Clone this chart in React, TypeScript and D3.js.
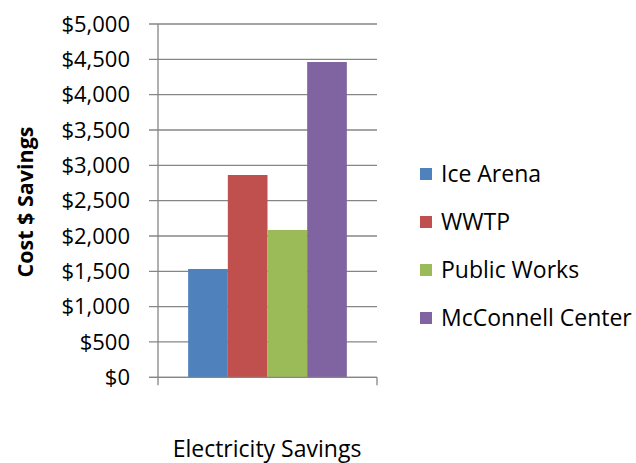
import React from "react";
import * as d3 from "d3";

const categories = ["Electricity Savings"];
const seriesNames = ["Ice Arena", "WWTP", "Public Works", "McConnell Center"];
const seriesValues = [1533, 2863, 2085, 4462];
const seriesColors = ["#4F81BD", "#C0504D", "#9BBB59", "#8064A2"];
const yTicks = [0, 500, 1000, 1500, 2000, 2500, 3000, 3500, 4000, 4500, 5000];
const yTitle = "Cost $ Savings";

const W = 636;
const H = 463;
const FONT = "'Open Sans', sans-serif";

export default function App() {
  const left = 158;
  const right = 377;
  const top = 24;
  const bottom = 377.3;

  const y = d3.scaleLinear().domain([0, 5000]).range([bottom, top]);
  const x0 = d3.scaleBand().domain(categories).range([left, right]).paddingInner(0).paddingOuter(0.19);
  const x1 = d3.scaleBand().domain(seriesNames).range([0, x0.bandwidth()]).padding(0);
  const fmt = (v: number) => "$" + d3.format(",")(v);

  const legendY = d3.scalePoint().domain(seriesNames).range([174, 318]);

  return (
    <svg width={W} height={H} style={{ position: "absolute", left: 0, top: 0 }}>
      <rect x={0} y={0} width={W} height={H} fill="#ffffff" />
      {yTicks.map((t) => (
        <line key={"g" + t} x1={149} x2={right} y1={y(t)} y2={y(t)} stroke="#868686" strokeWidth={1.3} />
      ))}
      {categories.map((c) =>
        seriesNames.map((s, i) => (
          <rect
            key={c + s}
            x={(x0(c) as number) + (x1(s) as number)}
            y={y(seriesValues[i])}
            width={x1.bandwidth()}
            height={bottom - y(seriesValues[i])}
            fill={seriesColors[i]}
          />
        ))
      )}
      <line x1={left} x2={left} y1={top} y2={bottom + 8} stroke="#868686" strokeWidth={1.3} />
      <line x1={149} x2={right} y1={bottom} y2={bottom} stroke="#868686" strokeWidth={1.3} />
      <line x1={right} x2={right} y1={bottom} y2={bottom + 8} stroke="#868686" strokeWidth={1.3} />
      {yTicks.map((t) => (
        <text key={"t" + t} x={130} y={y(t)} dy="0.35em" textAnchor="end" fontFamily={FONT} fontSize={22} fill="#000">
          {fmt(t)}
        </text>
      ))}
      <text
        transform={`translate(25,202) rotate(-90)`}
        textAnchor="middle"
        dy="0.35em"
        fontFamily={FONT}
        fontWeight="bold"
        fontSize={21.5}
        fill="#000"
      >
        {yTitle}
      </text>
      {categories.map((c) => (
        <text key={c} x={267} y={457} textAnchor="middle" fontFamily={FONT} fontSize={23} fill="#000">
          {c}
        </text>
      ))}
      {seriesNames.map((s, i) => (
        <g key={"l" + s}>
          <rect x={420} y={(legendY(s) as number) - 6} width={12} height={12} fill={seriesColors[i]} />
          <text x={441} y={legendY(s) as number} dy="0.35em" fontFamily={FONT} fontSize={23} fill="#000">
            {s}
          </text>
        </g>
      ))}
    </svg>
  );
}
